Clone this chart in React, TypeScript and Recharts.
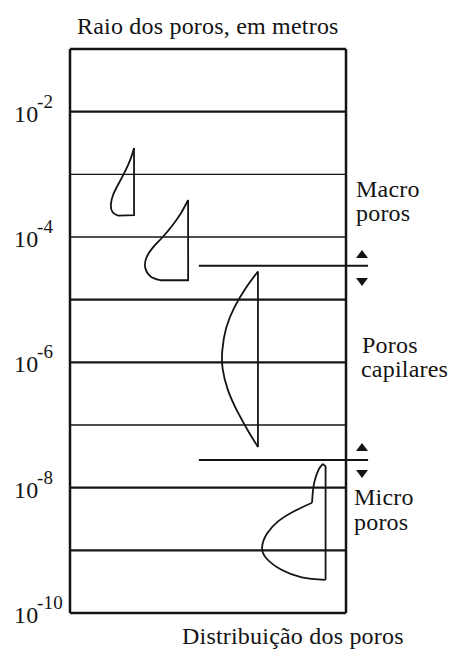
import React from 'react';
import { ComposedChart, Line, Scatter, XAxis, YAxis, ReferenceLine } from 'recharts';

const FONT = 'Liberation Serif';
const INK = '#141414';

// y = log10(pore radius in metres); x = relative distribution (box width = 100)
const yTicks = [-10, -8, -6, -4, -2];
const gridLevels = [-2, -3, -4, -5, -6, -7, -8, -9];
const thickLevels = [-2, -5, -6, -8, -9];
const boxXRange = [0, 100];
const boxYRange = [-10, -1];

const macroSmallCurve = [
  { x: 17.4, y: -3.66 }, { x: 15.4, y: -3.6 }, { x: 14.8, y: -3.49 }, { x: 15.6, y: -3.33 },
  { x: 17.6, y: -3.15 }, { x: 20.0, y: -2.95 }, { x: 22.0, y: -2.75 }, { x: 23.2, y: -2.58 },
];
const macroSmallEdge = [{ x: 23.2, y: -2.58 }, { x: 23.2, y: -3.65 }, { x: 17.4, y: -3.66 }];

const macroLargeCurve = [
  { x: 32.6, y: -4.69 }, { x: 29.2, y: -4.63 }, { x: 27.3, y: -4.5 }, { x: 27.6, y: -4.34 },
  { x: 30.0, y: -4.17 }, { x: 33.6, y: -4.0 }, { x: 37.0, y: -3.82 }, { x: 40.2, y: -3.62 },
  { x: 42.8, y: -3.41 },
];
const macroLargeEdge = [{ x: 42.8, y: -3.41 }, { x: 42.8, y: -4.69 }, { x: 32.6, y: -4.69 }];

const capillaryCurve = [
  { x: 68.1, y: -7.35 }, { x: 64.6, y: -7.1 }, { x: 60.6, y: -6.78 }, { x: 57.2, y: -6.44 },
  { x: 55.3, y: -6.1 }, { x: 55.2, y: -5.8 }, { x: 56.6, y: -5.45 }, { x: 59.6, y: -5.12 },
  { x: 63.6, y: -4.82 }, { x: 68.1, y: -4.55 },
];
const capillaryEdge = [{ x: 68.1, y: -4.55 }, { x: 68.1, y: -7.35 }];

const microLobe = [
  { x: 92.6, y: -9.47 }, { x: 84.0, y: -9.43 }, { x: 76.6, y: -9.31 }, { x: 71.2, y: -9.13 },
  { x: 69.6, y: -8.95 }, { x: 71.4, y: -8.73 }, { x: 75.6, y: -8.53 }, { x: 81.0, y: -8.38 },
  { x: 87.7, y: -8.24 },
];
const microSpike = [
  { x: 87.7, y: -8.24 }, { x: 88.0, y: -8.06 }, { x: 88.6, y: -7.9 }, { x: 90.0, y: -7.72 },
  { x: 91.6, y: -7.62 },
];
const microEdge = [{ x: 91.6, y: -7.62 }, { x: 92.6, y: -7.66 }, { x: 92.6, y: -9.47 }];

const separators = [-4.46, -7.56];
const separatorX = [46.7, 108];
const arrowsUp = [{ x: 105.8, y: -4.27 }, { x: 105.8, y: -7.35 }];
const arrowsDown = [{ x: 105.8, y: -4.72 }, { x: 105.8, y: -7.78 }];

const title = 'Raio dos poros, em metros';
const xTitle = 'Distribuição dos poros';
const zoneMacro = ['Macro', 'poros'];
const zoneCap = ['Poros', 'capilares'];
const zoneMicro = ['Micro', 'poros'];

const T = ({ x, y, size = 24, children }: any) => (
  <text x={x} y={y} style={{ fontFamily: FONT, fontSize: size, letterSpacing: 0.2 }} fill={INK}>
    {String(children)}
  </text>
);

const PowTick = (props: any) => {
  const { x, y, payload } = props;
  const base = x - 56;
  return (
    <g>
      <T x={base} y={y + 10}>10</T>
      <T x={base + 23} y={y - 4} size={19}>{String(payload.value)}</T>
    </g>
  );
};

const UpTri = (p: any) => (
  <polygon points={`${p.cx - 6},${p.cy + 4} ${p.cx + 6},${p.cy + 4} ${p.cx},${p.cy - 4}`} fill={INK} />
);
const DownTri = (p: any) => (
  <polygon points={`${p.cx - 6},${p.cy - 4} ${p.cx + 6},${p.cy - 4} ${p.cx},${p.cy + 4}`} fill={INK} />
);

const curveProps = {
  dataKey: 'y',
  stroke: INK,
  strokeWidth: 1.8,
  dot: false,
  activeDot: false,
  isAnimationActive: false,
  legendType: 'none' as const,
};

export default function App() {
  return (
    <div style={{ position: 'absolute', left: 0, top: 0, width: 449, height: 650, background: '#fff' }}>
      <ComposedChart width={449} height={650} margin={{ top: 49, right: 75.4, bottom: 37, left: 10 }}>
        <XAxis type="number" dataKey="x" domain={[0, 110]} hide allowDataOverflow />
        <YAxis
          type="number"
          dataKey="y"
          domain={[-10, -1]}
          ticks={yTicks}
          interval={0}
          width={60}
          tickSize={0}
          tickMargin={0}
          axisLine={false}
          tickLine={false}
          tick={<PowTick />}
          allowDataOverflow
        />
        {gridLevels.map((lv) => (
          <ReferenceLine
            key={'g' + lv}
            segment={[{ x: boxXRange[0], y: lv }, { x: boxXRange[1], y: lv }]}
            stroke={INK}
            strokeWidth={thickLevels.includes(lv) ? 2.2 : 1.3}
          />
        ))}
        {boxXRange.map((bx) => (
          <ReferenceLine
            key={'bx' + bx}
            segment={[{ x: bx, y: boxYRange[0] }, { x: bx, y: boxYRange[1] }]}
            stroke={INK}
            strokeWidth={2.5}
          />
        ))}
        {boxYRange.map((by) => (
          <ReferenceLine
            key={'by' + by}
            segment={[{ x: boxXRange[0], y: by }, { x: boxXRange[1], y: by }]}
            stroke={INK}
            strokeWidth={2.5}
          />
        ))}
        {separators.map((s) => (
          <ReferenceLine
            key={'s' + s}
            segment={[{ x: separatorX[0], y: s }, { x: separatorX[1], y: s }]}
            stroke={INK}
            strokeWidth={2}
          />
        ))}
        <Line {...curveProps} data={macroSmallCurve} type="natural" />
        <Line {...curveProps} data={macroSmallEdge} type="linear" />
        <Line {...curveProps} data={macroLargeCurve} type="natural" />
        <Line {...curveProps} data={macroLargeEdge} type="linear" />
        <Line {...curveProps} data={capillaryCurve} type="natural" />
        <Line {...curveProps} data={capillaryEdge} type="linear" />
        <Line {...curveProps} data={microLobe} type="natural" />
        <Line {...curveProps} data={microSpike} type="natural" />
        <Line {...curveProps} data={microEdge} type="linear" />
        <Scatter data={arrowsUp} dataKey="y" shape={<UpTri />} isAnimationActive={false} legendType="none" />
        <Scatter data={arrowsDown} dataKey="y" shape={<DownTri />} isAnimationActive={false} legendType="none" />
      </ComposedChart>
      <svg
        width={449}
        height={650}
        style={{ position: 'absolute', left: 0, top: 0, pointerEvents: 'none' }}
      >
        <T x={77} y={34}>{title}</T>
        <T x={182} y={644}>{xTitle}</T>
        <T x={356} y={197}>{zoneMacro[0]}</T>
        <T x={356} y={221}>{zoneMacro[1]}</T>
        <T x={362} y={353}>{zoneCap[0]}</T>
        <T x={361} y={377}>{zoneCap[1]}</T>
        <T x={354} y={505}>{zoneMicro[0]}</T>
        <T x={354} y={530}>{zoneMicro[1]}</T>
      </svg>
    </div>
  );
}
